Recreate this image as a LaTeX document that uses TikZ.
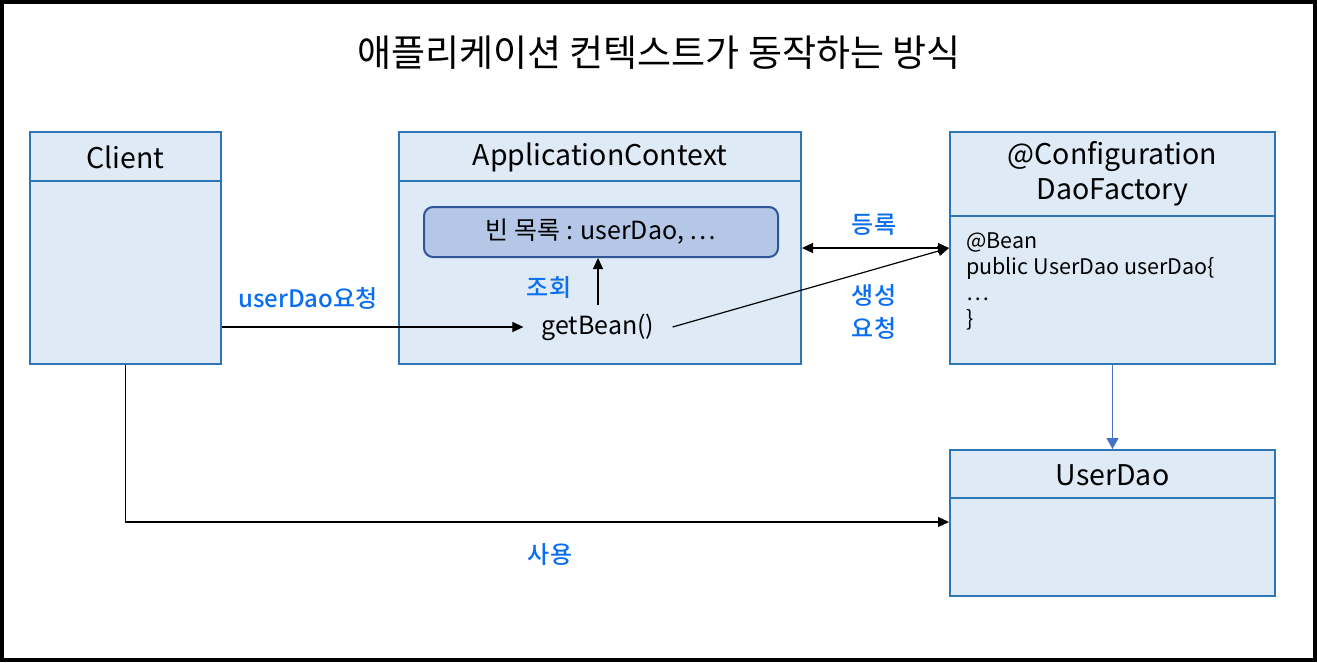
\documentclass[tikz,border=0pt]{standalone}
\usepackage{fontspec}
\setmainfont{Noto Sans CJK KR}
\newfontfamily\labelfont{Noto Sans CJK KR Medium}
\usetikzlibrary{arrows.meta,positioning}
\definecolor{boxfill}{HTML}{DEEAF6}
\definecolor{boxline}{HTML}{2E75B6}
\definecolor{listfill}{HTML}{B4C7E7}
\definecolor{listline}{HTML}{2F5597}
\definecolor{labelblue}{HTML}{0A6EF0}
\definecolor{daoarrow}{HTML}{4472C4}
\tikzset{
  classbox/.style={draw=boxline, fill=boxfill, line width=2pt, anchor=north west, inner sep=0pt},
  headtext/.style={font=\fontsize{28.5}{35}\selectfont, align=center, inner sep=0pt},
  bodytext/.style={font=\fontsize{25}{26}\selectfont, inner sep=0pt},
  codetext/.style={font=\fontsize{21.5}{26}\selectfont, align=left, anchor=north west, inner sep=0pt},
  steplabel/.style={font=\labelfont\fontsize{24}{33}\selectfont, text=labelblue, align=center, inner sep=0pt},
  link/.style={line width=1.2pt, -{Triangle[length=11pt,width=10pt]}}
}
\begin{document}
\begin{tikzpicture}[x=1pt,y=-1pt]
\useasboundingbox (0,0) rectangle (1317,662);
\draw[line width=4pt] (2,2) rectangle (1315,660);
\node[font=\fontsize{37}{40}\selectfont, inner sep=0pt] (title) at (659,53) {애플리케이션 컨텍스트가 동작하는 방식};

\node[classbox, minimum width=191pt, minimum height=232pt] (client) at (29,131) {};
\draw[boxline, line width=2pt] (client.west |- 0,181) -- (client.east |- 0,181);
\node[headtext] at (client.north |- 0,157) {Client};

\node[classbox, minimum width=402pt, minimum height=232pt] (appctx) at (398,131) {};
\draw[boxline, line width=2pt] (appctx.west |- 0,181) -- (appctx.east |- 0,181);
\node[headtext] at (appctx.north |- 0,157) {ApplicationContext};
\node[draw=listline, fill=listfill, line width=2pt, rounded corners=9pt, minimum width=354pt, minimum height=50pt, bodytext] (beans) at (601,232) {빈 목록 : userDao, …};
\node[bodytext, inner xsep=18pt, inner ysep=8pt] (getbean) at (598,327) {getBean()};

\node[classbox, minimum width=325pt, minimum height=232pt] (factory) at (949,131) {};
\draw[boxline, line width=2pt] (factory.west |- 0,216) -- (factory.east |- 0,216);
\node[headtext] at (factory.north |- 0,174) {@Configuration\\DaoFactory};
\node[codetext] (beancode) at (966,233) {@Bean\\public UserDao userDao\{\\…\\\}};

\node[classbox, minimum width=325pt, minimum height=146pt] (userdao) at (949,449) {};
\draw[boxline, line width=2pt] (userdao.west |- 0,498) -- (userdao.east |- 0,498);
\node[headtext] at (userdao.north |- 0,475) {UserDao};

\coordinate (reg) at (factory.west |- 0,248);
\draw[link] (client.east |- getbean) -- (getbean.west);
\draw[link] (getbean.north) -- (beans.south -| getbean.north);
\draw[link] (getbean.east) -- (reg);
\draw[link, {Triangle[length=11pt,width=10pt]}-{Triangle[length=11pt,width=10pt]}] (appctx.east |- reg) -- (reg);
\draw[link, draw=daoarrow, -{Triangle[length=11pt,width=12pt,fill=daoarrow]}] (factory.south) -- (userdao.north);
\draw[link] (client.south) |- (userdao.west |- 0,522);

\node[steplabel] (ask) at (308,298) {userDao요청};
\node[steplabel] (lookup) at (549,288) {조회};
\node[steplabel] (register) at (874,225) {등록};
\node[steplabel] (create) at (874,312) {생성\\요청};
\node[steplabel] (use) at (550,555) {사용};
\end{tikzpicture}
\end{document}
